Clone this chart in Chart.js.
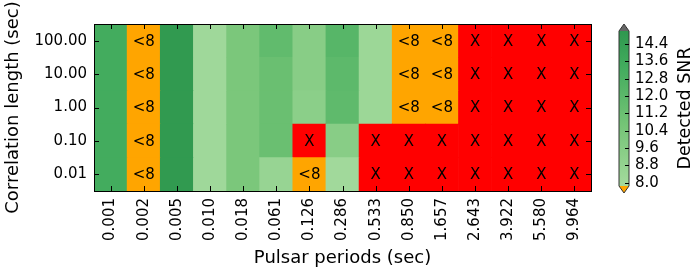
<!DOCTYPE html>
<html>
<head>
<meta charset="utf-8">
<script src="https://cdn.jsdelivr.net/npm/chart.js@4.4.1/dist/chart.umd.min.js"></script>
<style>
  html, body { margin: 0; padding: 0; background: #fff; }
  #wrap { position: relative; width: 696px; height: 275px; }
  #heatmap { position: absolute; left: 0; top: 0; }
  #colorbar { position: absolute; left: 600px; top: 0; }
</style>
</head>
<body>
<div id="wrap">
  <canvas id="heatmap" width="696" height="275"></canvas>
  <canvas id="colorbar" width="96" height="275"></canvas>
</div>
<script>
'use strict';

const periods = ['0.001', '0.002', '0.005', '0.010', '0.018', '0.061', '0.126', '0.286',
  '0.533', '0.850', '1.657', '2.643', '3.922', '5.580', '9.964'];

// bottom row first
const corrLengths = ['0.01', '0.10', '1.00', '10.00', '100.00'];

// detected SNR per correlation length, '<8' = below threshold, 'X' = not detected
const snrCorr0p01 = [13.3, '<8', 14.8, 8.1, 10.3, 8.6, '<8', 8.0, 'X', 'X', 'X', 'X', 'X', 'X', 'X'];
const snrCorr0p10 = [13.3, '<8', 14.8, 8.1, 10.3, 11.2, 'X', 9.5, 'X', 'X', 'X', 'X', 'X', 'X', 'X'];
const snrCorr1 = [13.3, '<8', 14.8, 8.1, 10.3, 11.2, 9.3, 11.8, 8.3, '<8', '<8', 'X', 'X', 'X', 'X'];
const snrCorr10 = [13.3, '<8', 14.8, 8.1, 10.3, 11.2, 9.5, 11.9, 8.3, '<8', '<8', 'X', 'X', 'X', 'X'];
const snrCorr100 = [13.3, '<8', 14.8, 8.1, 10.3, 11.7, 9.5, 12.2, 8.3, '<8', '<8', 'X', 'X', 'X', 'X'];

const snrRows = [snrCorr0p01, snrCorr0p10, snrCorr1, snrCorr10, snrCorr100];

const colorbarTicks = [8.0, 8.8, 9.6, 10.4, 11.2, 12.0, 12.8, 13.6, 14.4];
const snrMin = 7.85, snrMax = 15.0;

Chart.defaults.font.family = '"DejaVu Sans", sans-serif';
Chart.defaults.font.size = 15;
Chart.defaults.color = '#000';

// part of matplotlib Greens
const greens = [
  [0.25, [199, 233, 192]],
  [0.375, [161, 217, 155]],
  [0.5, [116, 196, 118]],
  [0.625, [65, 171, 93]],
  [0.75, [35, 139, 69]]
];

const snrColor = (v) => {
  const p = 0.375 + (v - 8) / 7 * 0.325;
  let i = 0;
  while (i < greens.length - 2 && p > greens[i + 1][0]) i++;
  const [p0, c0] = greens[i], [p1, c1] = greens[i + 1];
  const t = Math.min(1, Math.max(0, (p - p0) / (p1 - p0)));
  const c = c0.map((ch, k) => Math.round(ch + (c1[k] - ch) * t));
  return `rgb(${c[0]}, ${c[1]}, ${c[2]})`;
};

const cellColor = (v) => {
  if (v === '<8') return '#ffa500';
  if (v === 'X') return '#ff0000';
  return snrColor(v);
};

//Text inside cells
const cellLabels = {
  id: 'cellLabels',
  afterDatasetsDraw(chart) {
    const ctx = chart.ctx;
    ctx.save();
    ctx.font = '15px "DejaVu Sans"';
    ctx.fillStyle = '#000';
    ctx.textAlign = 'center';
    ctx.textBaseline = 'middle';
    chart.data.datasets.forEach((ds, i) => {
      chart.getDatasetMeta(i).data.forEach((bar, j) => {
        const v = ds.snr[j];
        if (typeof v === 'string') {
          ctx.fillText(v, bar.x, (bar.y + bar.base) / 2 + 1);
        }
      });
    });
    ctx.restore();
  }
};

//Frame with inward ticks on all sides
const frameTicks = {
  id: 'frameTicks',
  afterDraw(chart) {
    const {ctx, chartArea: a, scales} = chart;
    ctx.save();
    ctx.strokeStyle = '#000';
    ctx.lineWidth = 1;
    ctx.beginPath();
    scales.x.ticks.forEach((t, i) => {
      const x = Math.round(scales.x.getPixelForTick(i)) + 0.5;
      ctx.moveTo(x, a.top);
      ctx.lineTo(x, a.top + 5);
      ctx.moveTo(x, a.bottom);
      ctx.lineTo(x, a.bottom - 5);
    });
    scales.y.ticks.forEach((t) => {
      const y = Math.round(scales.y.getPixelForValue(t.value)) + 0.5;
      ctx.moveTo(a.left, y);
      ctx.lineTo(a.left + 5, y);
      ctx.moveTo(a.right, y);
      ctx.lineTo(a.right - 5, y);
    });
    ctx.stroke();
    ctx.strokeRect(Math.round(a.left) + 0.5, Math.round(a.top) + 0.5,
      Math.round(a.right - a.left), Math.round(a.bottom - a.top));
    ctx.restore();
  }
};

const heatmapChart = new Chart(document.querySelector('#heatmap'), {
  type: 'bar',
  data: {
    labels: periods,
    datasets: snrRows.map((row, i) => ({
      label: corrLengths[i],
      data: row.map(() => 1),
      snr: row,
      backgroundColor: row.map(cellColor),
      borderWidth: 0,
      barPercentage: 1,
      categoryPercentage: 1
    }))
  },
  options: {
    responsive: false,
    animation: false,
    layout: {padding: {left: 0, top: 24, right: 105, bottom: 0}},
    plugins: {
      legend: {display: false},
      tooltip: {enabled: false}
    },
    scales: {
      x: {
        stacked: true,
        grid: {display: false, drawTicks: false},
        border: {display: false},
        ticks: {maxRotation: 90, minRotation: 90, padding: 7, autoSkip: false},
        title: {display: true, text: 'Pulsar periods (sec)', font: {size: 18}, padding: {top: 0, bottom: 6}},
        afterFit: (scale) => { scale.height = 84; }
      },
      y: {
        stacked: true,
        min: 0,
        max: 5,
        grid: {display: false, drawTicks: false},
        border: {display: false},
        afterBuildTicks: (scale) => {
          scale.ticks = corrLengths.map((c, i) => ({value: i + 0.5}));
        },
        ticks: {
          padding: 7,
          autoSkip: false,
          callback: (v) => corrLengths[Math.floor(v)]
        },
        title: {display: true, text: 'Correlation length (sec)', font: {size: 18}, padding: {top: 3, bottom: 0}},
        afterFit: (scale) => { scale.width = 94; }
      }
    }
  },
  plugins: [cellLabels, frameTicks]
});

//Colorbar
const gradientFill = (context) => {
  const chart = context.chart;
  const y = chart.scales.y;
  if (!chart.chartArea || !y) return snrColor(11);
  const g = chart.ctx.createLinearGradient(0, y.getPixelForValue(snrMin), 0, y.getPixelForValue(snrMax));
  for (let k = 0; k <= 20; k++) {
    g.addColorStop(k / 20, snrColor(snrMin + (snrMax - snrMin) * k / 20));
  }
  return g;
};

const colorbarFrame = {
  id: 'colorbarFrame',
  afterDraw(chart) {
    const {ctx, chartArea: a, scales} = chart;
    const mid = (a.left + a.right) / 2;
    ctx.save();
    // extend arrows
    ctx.fillStyle = '#666';
    ctx.beginPath();
    ctx.moveTo(a.left, a.top);
    ctx.lineTo(mid, a.top - 7);
    ctx.lineTo(a.right, a.top);
    ctx.closePath();
    ctx.fill();
    ctx.fillStyle = '#ffa500';
    ctx.beginPath();
    ctx.moveTo(a.left, a.bottom);
    ctx.lineTo(mid, a.bottom + 7);
    ctx.lineTo(a.right, a.bottom);
    ctx.closePath();
    ctx.fill();
    // outline
    ctx.strokeStyle = '#333';
    ctx.lineWidth = 1;
    ctx.beginPath();
    ctx.moveTo(a.left, a.bottom);
    ctx.lineTo(a.left, a.top);
    ctx.lineTo(mid, a.top - 7);
    ctx.lineTo(a.right, a.top);
    ctx.lineTo(a.right, a.bottom);
    ctx.lineTo(mid, a.bottom + 7);
    ctx.closePath();
    ctx.stroke();
    // ticks
    ctx.strokeStyle = '#000';
    ctx.beginPath();
    colorbarTicks.forEach((v) => {
      const y = Math.round(scales.y.getPixelForValue(v)) + 0.5;
      ctx.moveTo(a.right, y);
      ctx.lineTo(a.right - 4, y);
    });
    ctx.stroke();
    // label
    ctx.translate(85, (a.top + a.bottom) / 2);
    ctx.rotate(-Math.PI / 2);
    ctx.font = '17.5px "DejaVu Sans"';
    ctx.fillStyle = '#000';
    ctx.textAlign = 'center';
    ctx.textBaseline = 'middle';
    ctx.fillText('Detected SNR', 0, 0);
    ctx.restore();
  }
};

const colorbarChart = new Chart(document.querySelector('#colorbar'), {
  type: 'bar',
  data: {
    labels: ['SNR'],
    datasets: [{
      data: [[snrMin, snrMax]],
      backgroundColor: gradientFill,
      borderWidth: 0,
      barPercentage: 1,
      categoryPercentage: 1
    }]
  },
  options: {
    responsive: false,
    animation: false,
    layout: {padding: {left: 19, top: 31, right: 0, bottom: 89}},
    plugins: {
      legend: {display: false},
      tooltip: {enabled: false}
    },
    scales: {
      x: {display: false},
      y: {
        position: 'right',
        min: snrMin,
        max: snrMax,
        grid: {display: false, drawTicks: false},
        border: {display: false},
        afterBuildTicks: (scale) => {
          scale.ticks = colorbarTicks.map((v) => ({value: v}));
        },
        ticks: {
          padding: 6,
          autoSkip: false,
          callback: (v) => v.toFixed(1)
        },
        afterFit: (scale) => { scale.width = 67; }
      }
    }
  },
  plugins: [colorbarFrame]
});
</script>
</body>
</html>
